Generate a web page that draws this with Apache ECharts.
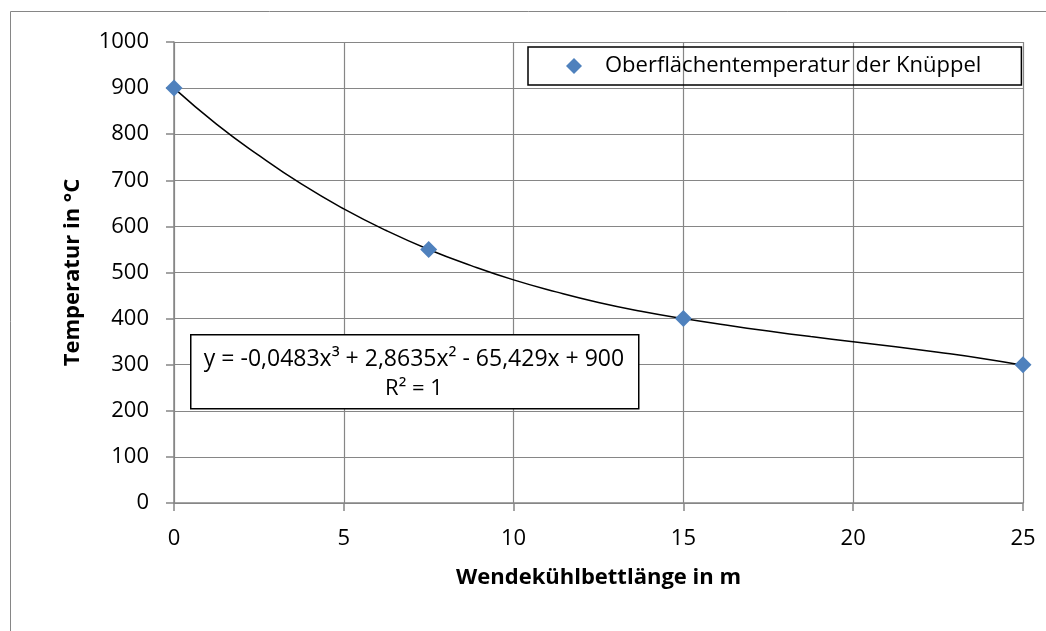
<!DOCTYPE html>
<html><head><meta charset="utf-8">
<script src="https://cdn.jsdelivr.net/npm/echarts@6/dist/echarts.min.js"></script>
<style>html,body{margin:0;padding:0;background:#fff}#c{width:1046px;height:631px}</style>
</head><body><div id="c"></div>
<script>
// Data
var xValues = [0, 7.5, 15, 25];
var yValues = [900, 550, 400, 300];
var seriesName = 'Oberflächentemperatur der Knüppel';
// Trendline (Excel polynomial trendline, order 3)
var trendX = [0, 1.25, 2.5, 3.75, 5, 6.25, 7.5, 8.75, 10, 11.25, 12.5, 13.75, 15, 16.25, 17.5, 18.75, 20, 21.25, 22.5, 23.75, 25];
var trendY = [900, 822, 754, 692, 638, 591, 550, 515, 484, 458, 435, 416, 400, 386, 373, 361, 350, 339, 327, 314, 299];
var xTicks = [0, 5, 10, 15, 20, 25];
var yTicks = [0, 100, 200, 300, 400, 500, 600, 700, 800, 900, 1000];
var equationText = 'y = -0,0483x³ + 2,8635x² - 65,429x + 900';
var r2Text = 'R² = 1';
var xTitle = 'Wendekühlbettlänge in m';
var yTitle = 'Temperatur in °C';

var font = '"Open Sans", "Noto Sans", sans-serif';
var chart = echarts.init(document.getElementById('c'), null, {renderer: 'canvas'});
var scatterData = xValues.map(function (x, i) { return [x, yValues[i]]; });
var trendData = trendX.map(function (x, i) { return [x, trendY[i]]; });

chart.setOption({
  animation: false,
  backgroundColor: '#fff',
  grid: {left: 174, right: 23, top: 42, bottom: 128, containLabel: false},
  xAxis: {
    type: 'value', min: xTicks[0], max: xTicks[xTicks.length - 1], interval: 5,
    name: xTitle, nameLocation: 'middle', nameGap: 64,
    nameTextStyle: {fontFamily: font, fontSize: 22, fontWeight: 'bold', color: '#000'},
    axisLine: {show: true, lineStyle: {color: '#868686', width: 1.5}},
    axisTick: {show: true, length: 8, lineStyle: {color: '#868686', width: 1.5}},
    axisLabel: {fontFamily: font, fontSize: 22, color: '#000', margin: 25, formatter: function (v) { return String(v); }},
    splitLine: {show: true, lineStyle: {color: '#868686', width: 1.2}}
  },
  yAxis: {
    type: 'value', min: yTicks[0], max: yTicks[yTicks.length - 1], interval: 100,
    name: yTitle, nameLocation: 'middle', nameGap: 90, nameRotate: 90,
    nameTextStyle: {fontFamily: font, fontSize: 22, fontWeight: 'bold', color: '#000'},
    axisLine: {show: true, lineStyle: {color: '#868686', width: 1.5}},
    axisTick: {show: true, length: 8, lineStyle: {color: '#868686', width: 1.5}},
    axisLabel: {fontFamily: font, fontSize: 22, color: '#000', margin: 25, formatter: function (v) { return String(v); }},
    splitLine: {show: true, lineStyle: {color: '#868686', width: 1.2}}
  },
  legend: {
    data: [{name: seriesName, icon: 'diamond'}],
    left: 528, top: 47,
    padding: [8, 40, 8, 38],
    itemWidth: 16, itemHeight: 16, itemGap: 10,
    borderColor: '#000', borderWidth: 1.5,
    textStyle: {fontFamily: font, fontSize: 22, color: '#000', padding: [0, 0, 0, 18]}
  },
  series: [
    {
      name: 'Trend', type: 'line', data: trendData, smooth: true, showSymbol: false,
      lineStyle: {color: '#000', width: 1.5}, z: 2, silent: true
    },
    {
      name: seriesName, type: 'scatter', data: scatterData, symbol: 'diamond', symbolSize: 17,
      itemStyle: {color: '#4F81BD', opacity: 1}, z: 3
    }
  ],
  graphic: [
    {type: 'rect', left: 8, top: 9, shape: {width: 1060, height: 640}, style: {fill: 'none', stroke: '#868686', lineWidth: 1}, z: 0, silent: true},
    {type: 'rect', left: 190, top: 334, shape: {width: 448, height: 74}, style: {fill: '#fff', stroke: '#000', lineWidth: 1.5}, z: 10},
    {type: 'text', x: 414, y: 359, style: {text: equationText, font: '23px ' + font, fill: '#000', align: 'center', verticalAlign: 'middle'}, z: 11},
    {type: 'text', x: 414, y: 389, style: {text: r2Text, font: '22px ' + font, fill: '#000', align: 'center', verticalAlign: 'middle'}, z: 11}
  ]
});
</script></body></html>
